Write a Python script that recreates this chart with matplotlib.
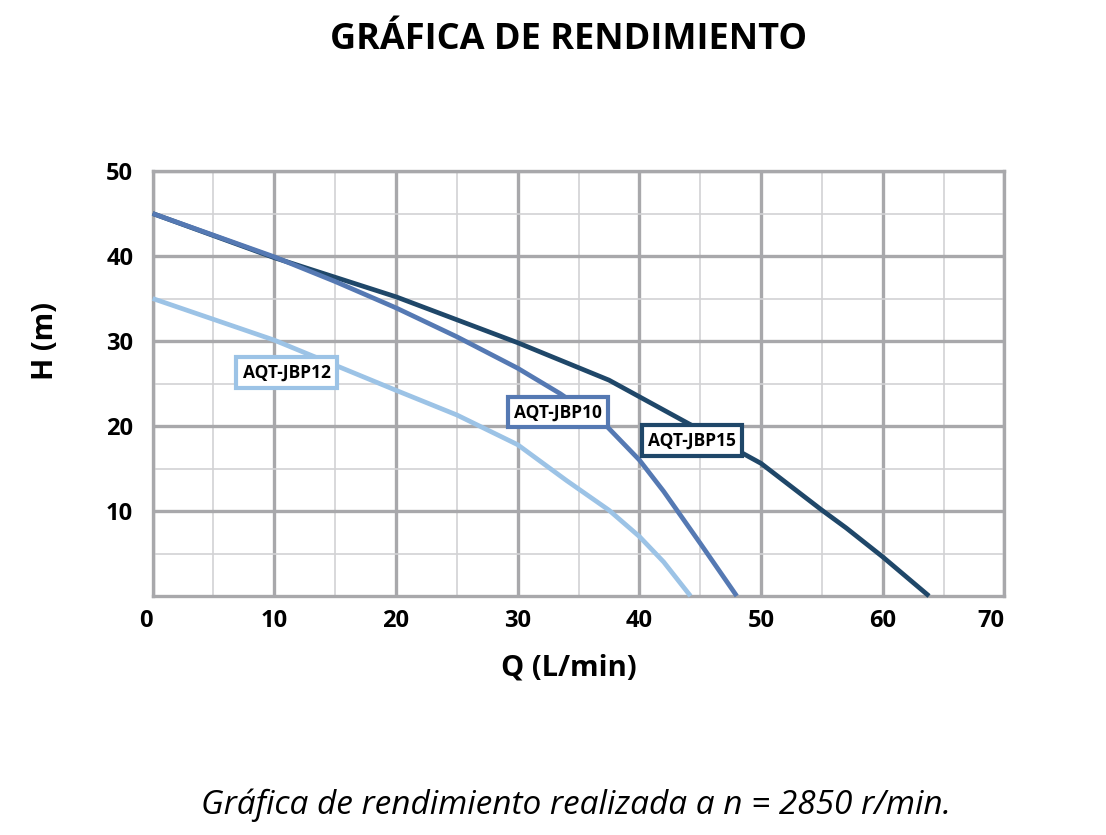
import matplotlib
matplotlib.use('Agg')
import matplotlib.pyplot as plt
from matplotlib.ticker import MultipleLocator

# curve data (Q in L/min, H in m)
q15 = [0, 10, 20, 30, 37.5, 44.4, 50, 55, 57, 60, 63.8]
h15 = [45, 39.8, 35.2, 29.8, 25.4, 20.0, 15.6, 10.1, 8.0, 4.6, 0]

q10 = [0, 10, 15, 20, 25, 30, 33.5, 37.3, 40, 42, 45, 48]
h10 = [45, 39.9, 37.0, 33.9, 30.5, 26.8, 23.8, 20.0, 16.0, 12.3, 6.2, 0]

q12 = [0, 10, 20, 25, 30, 34, 37.5, 40, 42, 44.2]
h12 = [35, 30.1, 24.2, 21.3, 17.8, 13.6, 10.1, 7.0, 4.0, 0]

names = ['AQT-JBP15', 'AQT-JBP10', 'AQT-JBP12']
colors = ['#1f4769', '#5579b3', '#9cc3e6']
label_pos = [(44.3, 18.3), (33.3, 21.6), (11.0, 26.3)]

plt.rcParams['font.family'] = ['Open Sans', 'DejaVu Sans']

fig = plt.figure(figsize=(11.06, 8.35), dpi=100)
ax = fig.add_axes([0.138, 0.2862, 0.7702, 0.509])

ax.set_xlim(0, 70)
ax.set_ylim(0, 50)
ax.xaxis.set_major_locator(MultipleLocator(10))
ax.xaxis.set_minor_locator(MultipleLocator(5))
ax.yaxis.set_major_locator(MultipleLocator(10))
ax.yaxis.set_minor_locator(MultipleLocator(5))
ax.grid(which='minor', color='#d2d2d4', linewidth=1.2, zorder=0)
ax.grid(which='major', color='#a8a8ab', linewidth=2.4, zorder=1)
for s in ax.spines.values():
    s.set_color('#a8a8ab')
    s.set_linewidth(2.4)
ax.tick_params(which='both', length=0)
ax.tick_params(axis='x', pad=9)
ax.tick_params(axis='y', pad=14)
ax.set_yticks([10, 20, 30, 40, 50])
ax.set_xticks([0, 10, 20, 30, 40, 50, 60, 70])
for t in ax.get_xticklabels() + ax.get_yticklabels():
    t.set_fontsize(17)
    t.set_fontweight('bold')
xl = ax.get_xticklabels()
xl[0].set_horizontalalignment('right')
xl[-1].set_horizontalalignment('right')

for q, h, c in zip([q15, q10, q12], [h15, h10, h12], colors):
    ax.plot(q, h, color=c, linewidth=3.4, zorder=3, clip_on=False,
            solid_capstyle='butt')

for name, c, (x, y) in zip(names, colors, label_pos):
    ax.text(x, y, name, fontsize=12.5, fontweight='bold', ha='center', va='center',
            zorder=5, bbox=dict(boxstyle='square,pad=0.35', facecolor='white',
                                edgecolor=c, linewidth=3))

ax.set_xlabel('Q (L/min)', fontsize=21, fontweight='bold')
ax.set_ylabel('H (m)', fontsize=21, fontweight='bold')
ax.xaxis.set_label_coords(0.488, -0.135)
ax.yaxis.set_label_coords(-0.109, 0.60)

fig.text(0.514, 0.952, 'GRÁFICA DE RENDIMIENTO', fontsize=26, fontweight='bold',
         ha='center', va='center')
fig.text(0.521, 0.036, 'Gráfica de rendimiento realizada a n = 2850 r/min.',
         fontsize=24, style='italic', ha='center', va='center')

fig.savefig('out.png', dpi=100)
